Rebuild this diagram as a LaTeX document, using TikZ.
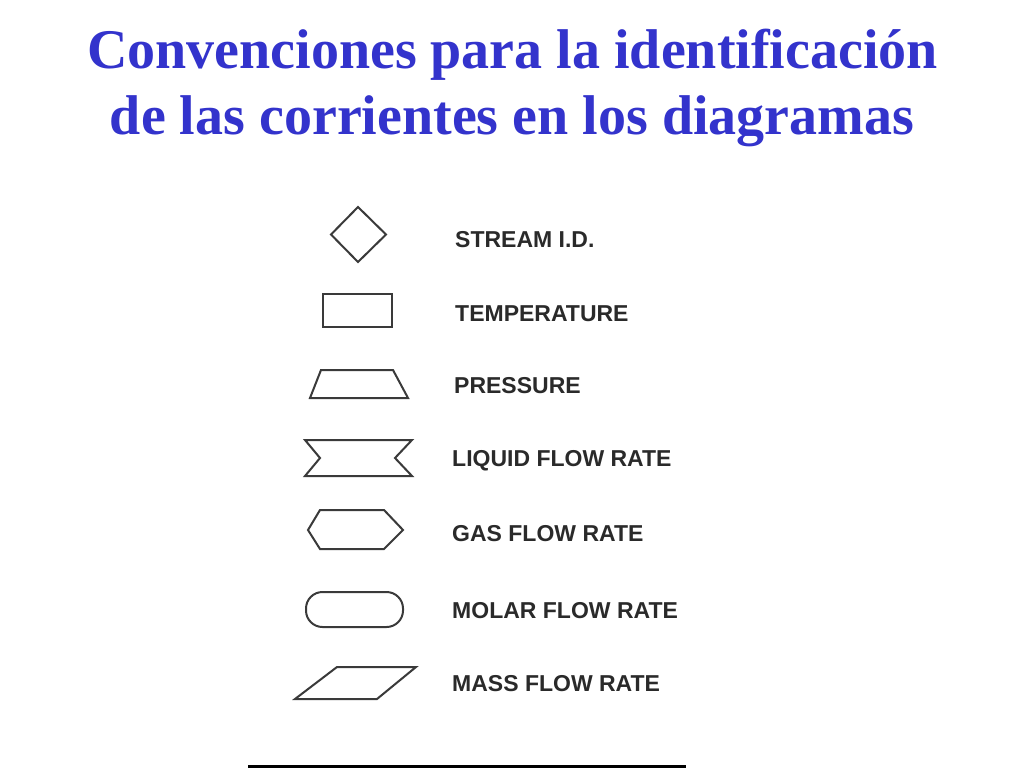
\documentclass[tikz,border=0pt]{standalone}
\usepackage{fontspec}
\setmainfont{Liberation Serif}
\newfontfamily\labelfont{Liberation Sans}
\definecolor{titleblue}{HTML}{3333CC}
\definecolor{ink}{HTML}{3A3A3A}
\definecolor{labelink}{HTML}{2A2A2A}
\tikzset{
  symbolshape/.style={draw=ink, line width=2pt, line join=miter},
  legendlabel/.style={anchor=base west, inner sep=0pt, text=labelink, font=\labelfont\bfseries\fontsize{23}{23}\selectfont},
  titletext/.style={anchor=base, inner sep=0pt, text=titleblue, font=\bfseries\fontsize{56}{56}\selectfont}
}
\begin{document}
\begin{tikzpicture}[x=1pt,y=-1pt]
\useasboundingbox (0,0) rectangle (1024,768);
\fill[white] (0,0) rectangle (1024,768);
% title
\node[titletext] (t1) at (512.5,68) {Convenciones para la identificación};
\node[titletext] (t2) at (512,134) {de las corrientes en los diagramas};
% symbols
\draw[symbolshape] (331,234.5) -- (358,207) -- (386,234.5) -- (358,262) -- cycle;
\draw[symbolshape] (323,294) rectangle (392,327);
\draw[symbolshape] (310,398) -- (321,370) -- (393,370) -- (408,398) -- cycle;
\draw[symbolshape] (305,440) -- (412,440) -- (395,458) -- (412,476) -- (305,476) -- (320,458) -- cycle;
\draw[symbolshape] (308,530) -- (320,510) -- (384,510) -- (403,530) -- (384,549) -- (320,549) -- cycle;
\draw[symbolshape, rounded corners=16.5pt] (306,592) rectangle (403,627);
\draw[symbolshape] (337,667) -- (416,667) -- (377,699) -- (295,699) -- cycle;
% labels
\node[legendlabel] (l1) at (455,247.5) {STREAM I.D.};
\node[legendlabel] (l2) at (455,321.5) {TEMPERATURE};
\node[legendlabel] (l3) at (454,393.5) {PRESSURE};
\node[legendlabel] (l4) at (452,466.5) {LIQUID FLOW RATE};
\node[legendlabel] (l5) at (452,541.5) {GAS FLOW RATE};
\node[legendlabel] (l6) at (452,618.5) {MOLAR FLOW RATE};
\node[legendlabel] (l7) at (452,691.5) {MASS FLOW RATE};
% bottom rule
\draw[black, line width=3pt] (248,766.5) -- (686,766.5);
\end{tikzpicture}
\end{document}
